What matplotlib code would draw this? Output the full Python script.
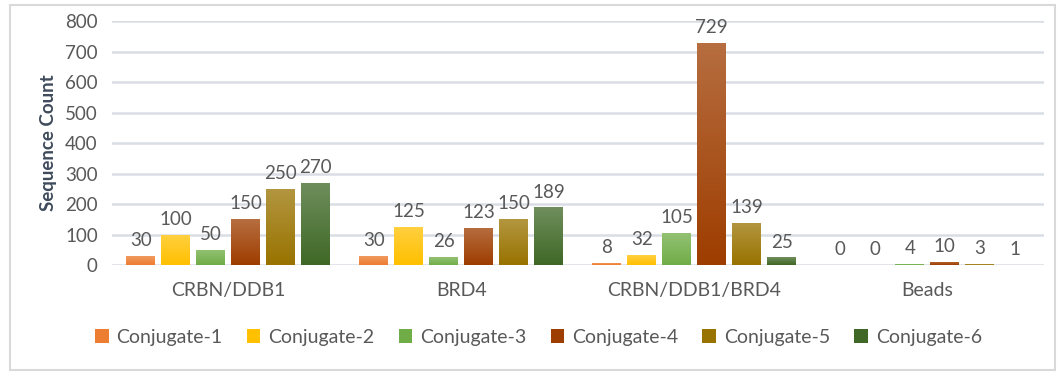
import numpy as np
import matplotlib
matplotlib.use('Agg')
import matplotlib.pyplot as plt
from matplotlib.colors import to_rgb
from matplotlib.patches import Rectangle

categories = ['CRBN/DDB1', 'BRD4', 'CRBN/DDB1/BRD4', 'Beads']
series = ['Conjugate-1', 'Conjugate-2', 'Conjugate-3', 'Conjugate-4', 'Conjugate-5', 'Conjugate-6']
values = [
    [30, 30, 8, 0],
    [100, 125, 32, 0],
    [50, 26, 105, 4],
    [150, 123, 729, 10],
    [250, 150, 139, 3],
    [270, 189, 25, 1],
]
colors = ['#ED7D31', '#FFC000', '#70AD47', '#9E3D00', '#997300', '#3F6826']

plt.rcParams['font.family'] = ['Lato', 'DejaVu Sans']
txt = '#595959'

fig = plt.figure(figsize=(10.64, 3.75), dpi=100)
ax = fig.add_axes([0.105, 0.293, 0.876, 0.651])

# outer frame
fig.patches.append(Rectangle((0.009, 0.013), 0.983, 0.975, transform=fig.transFigure,
                             fill=False, edgecolor='#D9D9D9', linewidth=1.5))

x = np.arange(len(categories))
step = 0.15
width = 0.124
for i, (name, vals, c) in enumerate(zip(series, values, colors)):
    pos = x + (i - 2.5) * step
    bars = ax.bar(pos, vals, width, color=c, label=name, zorder=3)
    base = np.array(to_rgb(c))
    top = base + (1 - base) * 0.25
    grad = np.linspace(0, 1, 64)[:, None, None]
    img = top * (1 - grad) + base * grad
    for b, v in zip(bars, vals):
        bx, bw = b.get_x(), b.get_width()
        if v > 0:
            im = ax.imshow(img, extent=(bx, bx + bw, 0, v), aspect='auto', zorder=3.5,
                           interpolation='bilinear')
            im.set_clip_path(b)
        ax.annotate(str(v), (bx + bw / 2, v), xytext=(0, 5), textcoords='offset points',
                    ha='center', va='bottom', fontsize=13.5, color=txt)

ax.set_xlim(-0.5, len(categories) - 0.5)
ax.set_ylim(0, 800)
ax.set_yticks(np.arange(0, 801, 100))
ax.set_xticks(x)
ax.set_xticklabels(categories, fontsize=14, color=txt)
ax.tick_params(axis='y', labelsize=13.5, colors=txt, length=0, pad=10)
ax.tick_params(axis='x', length=0, pad=12)
ax.grid(axis='y', color='#D9DDE4', linewidth=1.8, zorder=0)
for s in ax.spines.values():
    s.set_visible(False)
ax.set_ylabel('Sequence Count', fontsize=13.5, fontweight='bold', color='#3F4B5B', labelpad=6)

leg = fig.legend(loc='center', bbox_to_anchor=(0.506, 0.101), ncol=6, frameon=False,
                 fontsize=14, handlelength=0.7, handleheight=0.7, handletextpad=0.4,
                 columnspacing=1.25)
for t in leg.get_texts():
    t.set_color(txt)

fig.savefig('out.png', dpi=100)
